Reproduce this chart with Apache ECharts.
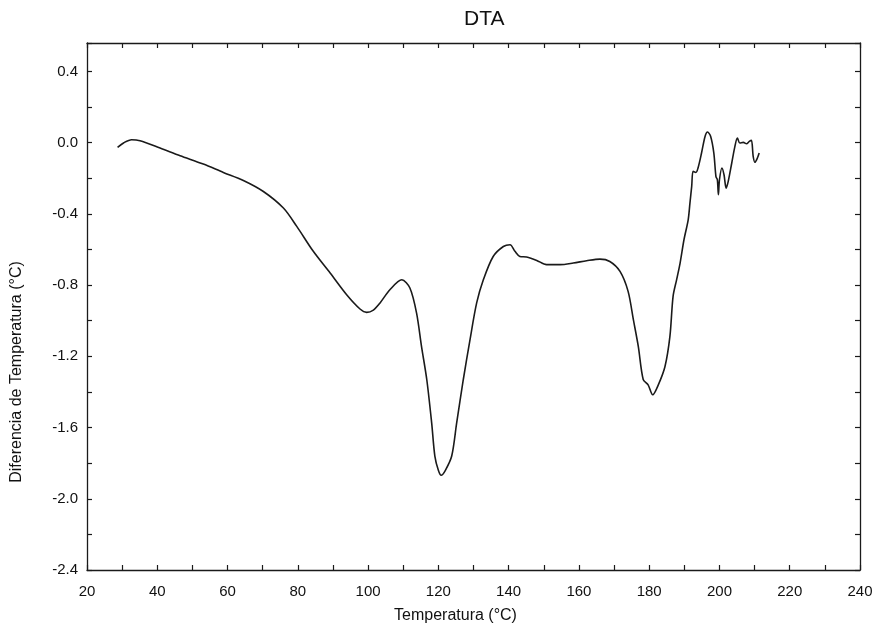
<!DOCTYPE html>
<html>
<head>
<meta charset="utf-8">
<script src="https://cdn.jsdelivr.net/npm/echarts@6/dist/echarts.min.js"></script>
<style>
html,body{margin:0;padding:0;background:#fff;}
#chart{width:876px;height:637px;}
</style>
</head>
<body>
<div id="chart"></div>
<script>
// Temperature (°C) and DTA signal (°C)
const temps = [28.7, 30.5, 32.7, 35.1, 40.8, 46.5, 53.1, 58.8, 64.5, 70.2, 75.9, 79.7, 84.4, 89.2, 93.9, 97.7, 99.6, 101.5, 103.4, 106.2, 109.6, 111.9, 113.8, 115.2, 116.7, 118.1, 119.0, 120.0, 120.8, 122.0, 123.8, 125.2, 127.1, 129.0, 130.9, 132.8, 135.6, 138.5, 140.4, 141.8, 143.2, 145.1, 148.0, 150.8, 154.6, 158.4, 162.2, 166.0, 168.8, 171.7, 174.0, 175.5, 176.9, 178.3, 179.7, 181.0, 182.6, 184.5, 185.9, 186.8, 187.8, 188.8, 189.9, 191.1, 191.6, 192.1, 192.5, 193.3, 193.9, 194.9, 195.9, 196.6, 197.5, 198.4, 199.0, 199.4, 199.7, 200.0, 200.7, 201.3, 201.9, 202.5, 203.5, 204.4, 205.1, 205.8, 206.8, 207.7, 208.5, 209.1, 209.6, 210.1, 210.8, 211.3];
const dta = [-0.026, 0.0, 0.017, 0.011, -0.03, -0.073, -0.12, -0.167, -0.212, -0.274, -0.367, -0.47, -0.61, -0.732, -0.854, -0.934, -0.953, -0.94, -0.9, -0.826, -0.77, -0.816, -0.957, -1.144, -1.33, -1.575, -1.76, -1.84, -1.868, -1.84, -1.76, -1.575, -1.33, -1.107, -0.9, -0.77, -0.639, -0.583, -0.573, -0.61, -0.639, -0.642, -0.661, -0.685, -0.685, -0.676, -0.663, -0.654, -0.667, -0.723, -0.835, -0.994, -1.144, -1.33, -1.36, -1.416, -1.36, -1.257, -1.088, -0.863, -0.77, -0.676, -0.545, -0.433, -0.339, -0.245, -0.161, -0.167, -0.142, -0.058, 0.035, 0.06, 0.035, -0.058, -0.19, -0.208, -0.292, -0.208, -0.142, -0.18, -0.255, -0.217, -0.114, -0.021, 0.026, -0.002, 0.002, -0.006, 0.007, 0.013, -0.077, -0.11, -0.086, -0.058];
const xTickLabels = [20, 40, 60, 80, 100, 120, 140, 160, 180, 200, 220, 240];
const yTickLabels = [0.4, 0.0, -0.4, -0.8, -1.2, -1.6, -2.0, -2.4];

const fontFam = '"Liberation Sans", Arial, sans-serif';
const chart = echarts.init(document.getElementById('chart'), null, {renderer: 'canvas'});

function isIn(list, v) { return list.some(t => Math.abs(t - v) < 1e-6); }

const axisLineStyle = {color: '#1a1a1a', width: 1.3};
const baseX = {
  type: 'value', min: 20, max: 240, interval: 10,
  axisLine: {show: true, onZero: false, lineStyle: axisLineStyle},
  axisTick: {show: true, inside: true, length: 5, lineStyle: {color: '#1a1a1a', width: 1.2}},
  splitLine: {show: false}
};
const baseY = {
  type: 'value', min: -2.4, max: 0.56, interval: 0.2,
  axisLine: {show: true, onZero: false, lineStyle: axisLineStyle},
  axisTick: {show: true, inside: true, length: 5, lineStyle: {color: '#1a1a1a', width: 1.2}},
  splitLine: {show: false}
};

chart.setOption({
  animation: false,
  backgroundColor: '#fff',
  title: {
    text: 'DTA', left: 459, top: 4,
    textStyle: {fontFamily: fontFam, fontSize: 21, fontWeight: 'normal', color: '#111'}
  },
  grid: {left: 87, right: 16, top: 43, bottom: 67},
  xAxis: [
    Object.assign({}, baseX, {
      position: 'bottom',
      axisLabel: {
        fontFamily: fontFam, fontSize: 15, color: '#111', margin: 14,
        formatter: v => isIn(xTickLabels, v) ? String(Math.round(v)) : ''
      },
      name: 'Temperatura (°C)', nameLocation: 'middle', nameGap: 38,
      nameTextStyle: {fontFamily: fontFam, fontSize: 16, color: '#111', padding: [0, 36, 0, 0]}
    }),
    Object.assign({}, baseX, {position: 'top', axisLabel: {show: false}})
  ],
  yAxis: [
    Object.assign({}, baseY, {
      position: 'left',
      axisLabel: {
        fontFamily: fontFam, fontSize: 15, color: '#111', margin: 9,
        formatter: v => isIn(yTickLabels, v) ? v.toFixed(1) : ''
      }
    }),
    Object.assign({}, baseY, {position: 'right', axisLabel: {show: false}})
  ],
  graphic: [{
    type: 'text',
    x: 17, y: 372,
    rotation: Math.PI / 2,
    style: {
      text: 'Diferencia de Temperatura (°C)',
      font: '16px ' + fontFam,
      fill: '#111',
      align: 'center',
      verticalAlign: 'middle'
    }
  }],
  series: [{
    type: 'line',
    data: temps.map((t, i) => [t, dta[i]]),
    xAxisIndex: 0, yAxisIndex: 0,
    showSymbol: false,
    smooth: 0.3,
    lineStyle: {color: '#1a1a1a', width: 1.6}
  }]
});
</script>
</body>
</html>
